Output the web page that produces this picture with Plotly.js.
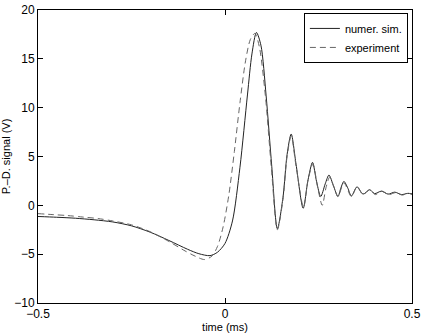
<!DOCTYPE html>
<html>
<head>
<meta charset="utf-8">
<script src="https://cdn.plot.ly/plotly-3.0.1.min.js"></script>
<style>
  html, body { margin: 0; padding: 0; background: #fff; }
  #chart { width: 423px; height: 333px; }
</style>
</head>
<body>
<div id="chart"></div>
<script>
// numerical simulation (time in ms, signal in V)
const simTime = [-0.5, -0.45, -0.4, -0.35, -0.3, -0.25, -0.2, -0.15, -0.1, -0.07, -0.04, -0.02, 0.0, 0.02, 0.04, 0.06, 0.072, 0.084, 0.096, 0.11, 0.125, 0.14, 0.155, 0.166, 0.177, 0.19, 0.209, 0.222, 0.234, 0.245, 0.256, 0.268, 0.278, 0.29, 0.302, 0.31, 0.318, 0.328, 0.338, 0.353, 0.369, 0.387, 0.4, 0.418, 0.436, 0.454, 0.472, 0.488, 0.5];
const simSignal = [-1.14, -1.22, -1.32, -1.48, -1.7, -2.1, -2.75, -3.6, -4.5, -4.95, -5.15, -4.8, -3.9, -1.6, 3.9, 11.3, 15.5, 17.7, 16.4, 11.2, 4.0, -2.4, 0.8, 5.2, 7.3, 4.2, -0.3, 2.6, 4.4, 2.4, 0.9, 2.2, 3.1, 2.0, 0.9, 1.8, 2.45, 1.8, 0.95, 1.9, 1.15, 1.6, 1.2, 1.45, 1.15, 1.35, 1.1, 1.22, 1.18];

// experiment
const expTime = [-0.5, -0.46, -0.42, -0.38, -0.34, -0.3, -0.25, -0.2, -0.15, -0.11, -0.08, -0.055, -0.035, -0.02, -0.005, 0.01, 0.025, 0.04, 0.055, 0.068, 0.08, 0.092, 0.108, 0.124, 0.14, 0.155, 0.166, 0.177, 0.19, 0.21, 0.222, 0.235, 0.248, 0.26, 0.27, 0.28, 0.29, 0.302, 0.318, 0.338, 0.353, 0.369, 0.387, 0.402, 0.42, 0.438, 0.456, 0.474, 0.49, 0.5];
const expSignal = [-0.85, -0.95, -1.05, -1.2, -1.35, -1.6, -2.0, -2.7, -3.7, -4.6, -5.2, -5.55, -5.2, -4.2, -2.2, 1.0, 5.5, 10.5, 14.8, 17.0, 17.6, 16.2, 11.2, 3.8, -2.5, 0.6, 5.0, 7.1, 4.0, -0.2, 2.6, 4.2, 1.8, 0.0, 1.8, 2.9, 2.0, 0.9, 2.3, 0.9, 1.9, 1.1, 1.6, 1.1, 1.45, 1.1, 1.3, 1.05, 1.25, 1.1];

const xTicks = [-0.5, 0, 0.5];
const yTicks = [-10, -5, 0, 5, 10, 15, 20];

const traces = [
    { x: simTime, y: simSignal, type: 'scatter', mode: 'lines', name: 'numer. sim.',
      line: { color: '#222', width: 1, shape: 'spline', smoothing: 0.8 } },
    { x: expTime, y: expSignal, type: 'scatter', mode: 'lines', name: 'experiment',
      line: { color: '#666', width: 1, dash: '6px,4px', shape: 'spline', smoothing: 0.8 } }
];

const axisBase = {
    showline: true, linecolor: '#000', linewidth: 1, mirror: 'allticks',
    ticks: 'inside', ticklen: 5, tickcolor: '#000', showgrid: false, zeroline: false,
    tickfont: { size: 12, color: '#000' }
};

const layout = {
    width: 423, height: 333,
    margin: { l: 38, r: 11, t: 10, b: 30 },
    paper_bgcolor: '#fff', plot_bgcolor: '#fff',
    font: { family: 'Liberation Sans, Arial, sans-serif', color: '#000', size: 12 },
    showlegend: true,
    legend: { x: 0.989, y: 0.99, xanchor: 'right', yanchor: 'top', bgcolor: '#fff',
              bordercolor: '#000', borderwidth: 1, font: { size: 11 }, itemwidth: 30, tracegroupgap: 0 },
    xaxis: Object.assign({}, axisBase, { range: [-0.5, 0.5], tickvals: xTicks, ticktext: ['\u22120.5', '0', '0.5'],
        ticklabelstandoff: 0,
        title: { text: 'time (ms)', font: { size: 11 }, standoff: 0 } }),
    yaxis: Object.assign({}, axisBase, { range: [-10, 20], tickvals: yTicks,
        ticktext: yTicks.map(v => v < 0 ? '\u2212' + Math.abs(v) : String(v)),
        title: { text: 'P.\u2013D. signal (V)', font: { size: 11 }, standoff: 6 } })
};

Plotly.newPlot('chart', traces, layout, { displayModeBar: false, staticPlot: true });
</script>
</body>
</html>
